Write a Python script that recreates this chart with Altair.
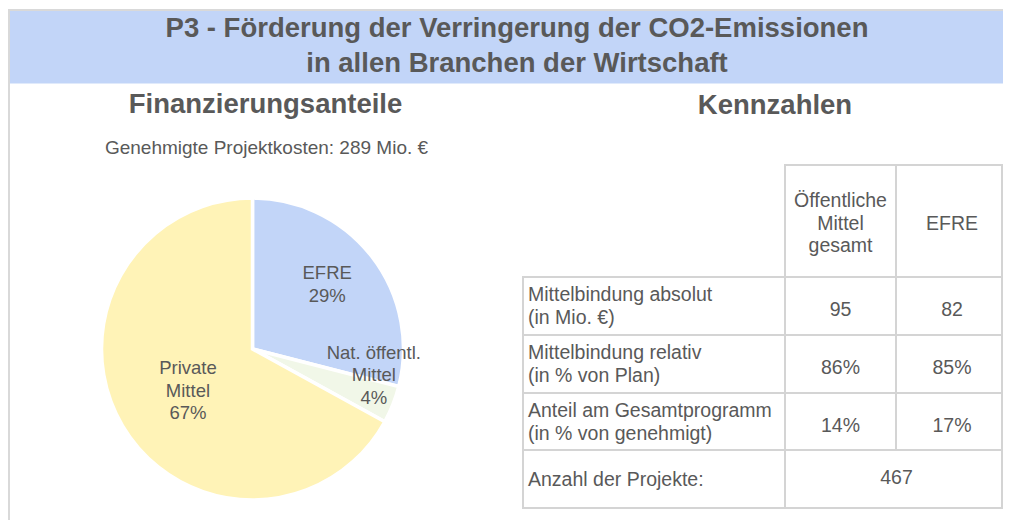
import math
import altair as alt
import pandas as pd

# ------------------------------------------------------------------ data
title_lines = ["P3 - Förderung der Verringerung der CO2-Emissionen",
               "in allen Branchen der Wirtschaft"]
left_heading = "Finanzierungsanteile"
right_heading = "Kennzahlen"
subtitle = "Genehmigte Projektkosten: 289 Mio. €"

pie_categories = ["EFRE", "Nat. öffentl. Mittel", "Private Mittel"]
pie_label_lines = [["EFRE"], ["Nat. öffentl.", "Mittel"], ["Private", "Mittel"]]
pie_shares = [29, 4, 67]

table_col_headers = [["Öffentliche", "Mittel", "gesamt"], ["EFRE"]]
table_row_labels = [["Mittelbindung absolut", "(in Mio. €)"],
                    ["Mittelbindung relativ", "(in % von Plan)"],
                    ["Anteil am Gesamtprogramm", "(in % von genehmigt)"]]
table_public = ["95", "86%", "14%"]
table_efre = ["82", "85%", "17%"]
projects_label = "Anzahl der Projekte:"
projects_count = "467"

# ------------------------------------------------------------------ styles / layout
FONT = "Liberation Sans"
TXT = "#595959"
BANNER = "#c2d5f8"
FRAME = "#d9d9d9"
GRID = "#d4d4d4"
pie_colors = ["#c2d5f8", "#f1f7e8", "#fff3b7"]

X0, X1 = 8, 1003      # page coordinates covered by the chart
Y0, Y1 = 8, 520
xs = alt.Scale(domain=[X0, X1], range=[0, X1 - X0], nice=False, zero=False)
ys = alt.Scale(domain=[Y0, Y1], range=[0, Y1 - Y0], nice=False, zero=False)

PCX, PCY, PR = 252.5, 349, 151          # pie centre / radius
LABEL_POLAR = [(0.664, -3.3), (0.831, -9.6), (0.514, -2.1)]  # radius factor, angle nudge
PIE_LH, PIE_CAP, PIE_FS = 22.5, 13, 18.5

COLS = [523, 785, 896, 1002]
ROWS = [165, 277, 335, 393, 450, 508]
TAB_FS, TAB_LH = 19.5, 22.5


def text_layer(df, size, bold=False, align="center"):
    return alt.Chart(df).mark_text(
        font=FONT, fontSize=size, fontWeight="bold" if bold else "normal",
        align=align, baseline="alphabetic", color=TXT
    ).encode(
        x=alt.X("x:Q", scale=xs, axis=None),
        y=alt.Y("y:Q", scale=ys, axis=None),
        text="t:N",
    )


def rule_layer(df, color, width, cap="square"):
    return alt.Chart(df).mark_rule(color=color, strokeWidth=width, strokeCap=cap).encode(
        x=alt.X("x:Q", scale=xs, axis=None), x2="x2:Q",
        y=alt.Y("y:Q", scale=ys, axis=None), y2="y2:Q",
    )


# ------------------------------------------------------------------ banner & frame
banner = alt.Chart(pd.DataFrame([{"x": 10, "x2": X1, "y": 11, "y2": 83.5}])).mark_rect(
    color=BANNER).encode(
    x=alt.X("x:Q", scale=xs, axis=None), x2="x2:Q",
    y=alt.Y("y:Q", scale=ys, axis=None), y2="y2:Q")

frame = rule_layer(pd.DataFrame([
    {"x": X0, "x2": X1, "y": 10, "y2": 10},
    {"x": 9, "x2": 9, "y": 10, "y2": Y1},
]), FRAME, 2, cap="butt")

titles = text_layer(pd.DataFrame([
    {"x": 517, "y": 37, "t": title_lines[0]},
    {"x": 517, "y": 71.5, "t": title_lines[1]},
]), 27.5, bold=True)

headings = text_layer(pd.DataFrame([
    {"x": 265.5, "y": 113, "t": left_heading},
    {"x": 775, "y": 114, "t": right_heading},
]), 27.5, bold=True)

sub = text_layer(pd.DataFrame([{"x": 266.5, "y": 154, "t": subtitle}]), 19)

# ------------------------------------------------------------------ pie
pie_df = pd.DataFrame({"cat": pie_categories, "share": pie_shares,
                       "idx": list(range(len(pie_categories)))})
pie = alt.Chart(pie_df).mark_arc(outerRadius=PR, stroke="white", strokeWidth=3.5).encode(
    theta=alt.Theta("share:Q", stack=True),
    order=alt.Order("idx:Q"),
    color=alt.Color("cat:N", scale=alt.Scale(domain=pie_categories, range=pie_colors),
                    legend=None),
    x=alt.XDatum(PCX, type="quantitative", scale=xs, axis=None),
    y=alt.YDatum(PCY, type="quantitative", scale=ys, axis=None),
)

total = sum(pie_shares)
rows = []
cum = 0
for i, (lines, v) in enumerate(zip(pie_label_lines, pie_shares)):
    mid = (cum + v / 2) / total * 2 * math.pi
    cum += v
    rf, nudge = LABEL_POLAR[i]
    a = mid + math.radians(nudge)
    r = (PR - 1.75) * rf
    bx = PCX + r * math.sin(a)
    by = PCY - r * math.cos(a)
    all_lines = lines + [f"{v}%"]
    first = by - (len(all_lines) - 1) * PIE_LH / 2 + PIE_CAP / 2
    for j, t in enumerate(all_lines):
        rows.append({"x": bx, "y": first + j * PIE_LH, "t": t})
pie_labels = text_layer(pd.DataFrame(rows), PIE_FS)

# ------------------------------------------------------------------ table grid
g = []
g.append({"x": COLS[1], "x2": COLS[3], "y": ROWS[0], "y2": ROWS[0]})
for yv in ROWS[1:]:
    g.append({"x": COLS[0], "x2": COLS[3], "y": yv, "y2": yv})
g.append({"x": COLS[0], "x2": COLS[0], "y": ROWS[1], "y2": ROWS[-1]})
g.append({"x": COLS[1], "x2": COLS[1], "y": ROWS[0], "y2": ROWS[-1]})
g.append({"x": COLS[2], "x2": COLS[2], "y": ROWS[0], "y2": ROWS[-2]})
g.append({"x": COLS[3], "x2": COLS[3], "y": ROWS[0], "y2": ROWS[-1]})
grid = rule_layer(pd.DataFrame(g), GRID, 2)

# ------------------------------------------------------------------ table text
c2 = (COLS[1] + COLS[2]) / 2
c3 = (COLS[2] + COLS[3] + 6) / 2
LEFT_X = COLS[0] + 5
centered, left = [], []
hmid = (ROWS[0] + ROWS[1]) / 2
for cx, lines in zip([c2, c3], table_col_headers):
    first = hmid - (len(lines) - 1) * TAB_LH / 2 + 8.5
    for j, t in enumerate(lines):
        centered.append({"x": cx, "y": first + j * TAB_LH, "t": t})
for i, (lines, a, b) in enumerate(zip(table_row_labels, table_public, table_efre)):
    top = ROWS[i + 1]
    for j, t in enumerate(lines):
        left.append({"x": LEFT_X, "y": top + 24 + j * TAB_LH, "t": t})
    centered.append({"x": c2, "y": top + 39, "t": a})
    centered.append({"x": c3, "y": top + 39, "t": b})
left.append({"x": LEFT_X, "y": ROWS[4] + 36, "t": projects_label})
centered.append({"x": (COLS[1] + COLS[3] + 6) / 2, "y": ROWS[4] + 34, "t": projects_count})

table_center = text_layer(pd.DataFrame(centered), TAB_FS)
table_left = text_layer(pd.DataFrame(left), TAB_FS, align="left")

chart = alt.layer(
    banner, frame, titles, headings, sub, pie, pie_labels, grid, table_center, table_left
).properties(
    width=X1 - X0, height=Y1 - Y0, padding=0,
    autosize=alt.AutoSizeParams(type="none"),
).configure_view(stroke=None)

chart.save("out.html", embed_options={"renderer": "svg", "actions": False})
